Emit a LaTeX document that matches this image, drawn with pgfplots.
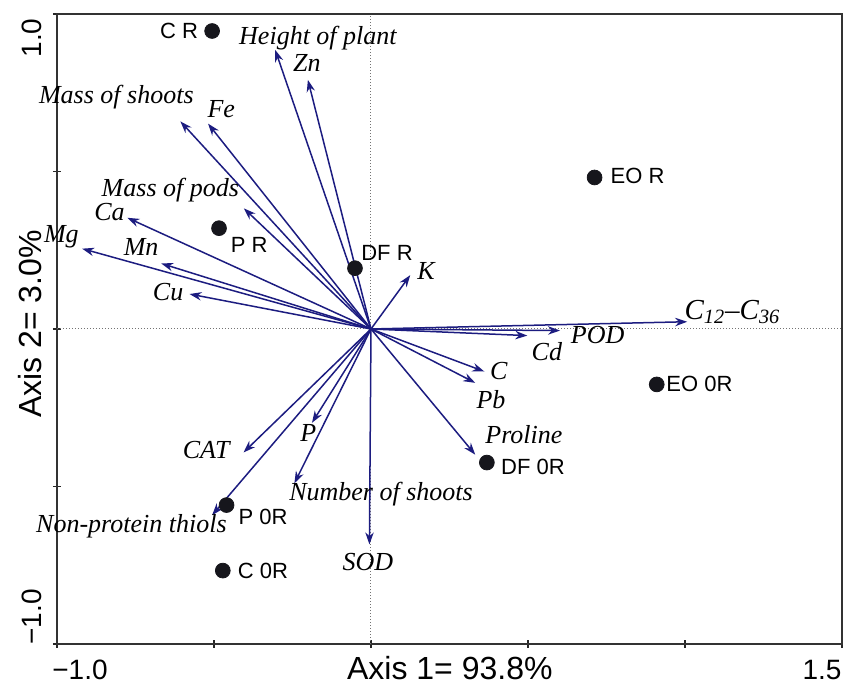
\documentclass[border=0pt]{standalone}
\usepackage{fontspec}
\setmainfont{Liberation Serif}
\setsansfont{Liberation Sans}
\usepackage{pgfplots}
\usepackage{pgfplotstable}
\pgfplotsset{compat=1.18}
\usetikzlibrary{arrows.meta}
\definecolor{arrowblue}{RGB}{28,28,128}
\definecolor{dotblack}{RGB}{22,22,28}
\tikzset{
  lab/.style={font=\fontsize{13}{15}\selectfont\itshape, inner sep=0pt},
  site/.style={font=\fontsize{11}{13}\selectfont\sffamily, inner sep=0pt},
}

% loading vectors (tips of arrows from origin)
\pgfplotstableread{
u v
-0.305 0.886
-0.201 0.791
-0.607 0.659
-0.519 0.652
-0.405 0.383
-0.776 0.353
-0.920 0.255
-0.668 0.208
-0.578 0.111
0.125 0.171
1.007 0.023
0.602 -0.005
0.498 -0.021
0.361 -0.135
0.332 -0.171
0.332 -0.399
-0.005 -0.684
-0.244 -0.490
-0.188 -0.298
-0.406 -0.392
-0.506 -0.591
}\vectors

% sample scores
\pgfplotstableread{
x y
-0.506 0.946
-0.484 0.320
-0.051 0.193
0.712 0.481
0.910 -0.176
0.369 -0.424
-0.460 -0.559
-0.472 -0.767
}\sites

\begin{document}
\begin{tikzpicture}
\useasboundingbox (-28.5pt,-20pt) rectangle (393pt,322pt);
\begin{axis}[
  scale only axis, width=392.5pt, height=315pt,
  xmin=-1, xmax=1.5, ymin=-1, ymax=1,
  xtick={-1,-0.5,0,0.5,1,1.5}, ytick={-1,-0.5,0,0.5,1},
  xticklabels={}, yticklabels={},
  tick pos=left, tick align=center, major tick length=4pt,
  tick style={line width=0.8pt, black!85},
  axis line style={line width=1pt, black!80},
  clip=false,
]
\draw[black!55, densely dotted, line width=0.5pt] (axis cs:0,-1) -- (axis cs:0,1);
\draw[black!55, densely dotted, line width=0.5pt] (axis cs:-1,0) -- (axis cs:1.5,0);

\addplot[arrowblue, line width=0.75pt, -{Stealth[length=6pt,width=4.2pt]},
  quiver={u=\thisrow{u}, v=\thisrow{v}}]
  table[x expr=0, y expr=0] {\vectors};

\addplot[only marks, mark=*, mark size=3.7pt, dotblack, mark options={fill=dotblack}]
  table[x=x, y=y] {\sites};

% variable labels
\node[lab] at (axis cs:-0.169,0.924) {Height of plant};
\node[lab] at (axis cs:-0.204,0.845) {Zn};
\node[lab] at (axis cs:-0.811,0.737) {Mass of shoots};
\node[lab] at (axis cs:-0.477,0.699) {Fe};
\node[lab] at (axis cs:-0.639,0.440) {Mass of pods};
\node[lab] at (axis cs:-0.833,0.370) {Ca};
\node[lab] at (axis cs:-0.986,0.294) {Mg};
\node[lab] at (axis cs:-0.732,0.259) {Mn};
\node[lab] at (axis cs:-0.646,0.117) {Cu};
\node[lab] at (axis cs:0.175,0.184) {K};
\node[lab, font=\fontsize{14.5}{16}\selectfont\itshape] at (axis cs:1.151,0.054) {C\textsubscript{12}–C\textsubscript{36}};
\node[lab] at (axis cs:0.722,-0.019) {POD};
\node[lab] at (axis cs:0.560,-0.073) {Cd};
\node[lab] at (axis cs:0.407,-0.133) {C};
\node[lab] at (axis cs:0.382,-0.225) {Pb};
\node[lab] at (axis cs:0.487,-0.335) {Proline};
\node[lab] at (axis cs:0.032,-0.525) {Number of shoots};
\node[lab] at (axis cs:-0.010,-0.740) {SOD};
\node[lab] at (axis cs:-0.200,-0.329) {P};
\node[lab] at (axis cs:-0.525,-0.383) {CAT};
\node[lab] at (axis cs:-0.763,-0.627) {Non-protein thiols};

% site labels
\node[site] at (axis cs:-0.611,0.946) {C R};
\node[site] at (axis cs:-0.388,0.266) {P R};
\node[site] at (axis cs:0.051,0.240) {DF R};
\node[site] at (axis cs:0.849,0.487) {EO R};
\node[site] at (axis cs:1.046,-0.174) {EO 0R};
\node[site] at (axis cs:0.516,-0.437) {DF 0R};
\node[site] at (axis cs:-0.344,-0.598) {P 0R};
\node[site] at (axis cs:-0.344,-0.769) {C 0R};

% tick labels and axis titles
\node[font=\fontsize{14}{16}\selectfont\sffamily, anchor=base] at ([shift={(11.5pt,-18pt)}]axis cs:-1,-1) {−1.0};
\node[font=\fontsize{14}{16}\selectfont\sffamily, anchor=base] at ([shift={(-10pt,-18pt)}]axis cs:1.5,-1) {1.5};
\node[font=\fontsize{16}{18}\selectfont\sffamily, anchor=base] at ([yshift=-18pt]axis cs:0.251,-1) {Axis 1= 93.8\%};
\node[font=\fontsize{14}{16}\selectfont\sffamily, anchor=base, rotate=90] at ([shift={(-7.5pt,-12pt)}]axis cs:-1,1) {1.0};
\node[font=\fontsize{14}{16}\selectfont\sffamily, anchor=base, rotate=90] at ([shift={(-7.5pt,13.5pt)}]axis cs:-1,-1) {−1.0};
\node[font=\fontsize{16}{18}\selectfont\sffamily, anchor=base, rotate=90] at ([xshift=-7.5pt]axis cs:-1,0.016) {Axis 2= 3.0\%};
\end{axis}
\end{tikzpicture}
\end{document}
